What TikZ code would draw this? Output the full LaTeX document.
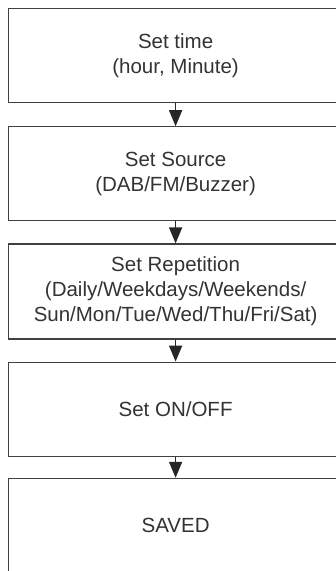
\documentclass[tikz,border=0pt]{standalone}
\usepackage{fontspec}
\setmainfont{Liberation Sans}
\usetikzlibrary{positioning,arrows.meta}
\begin{document}
\begin{tikzpicture}[x=1pt,y=1pt,font=\fontsize{20.5}{25}\selectfont,
  stepbox/.style={draw=black!75, line width=1.2pt, text=black!80, minimum width=334pt,
    minimum height=94pt, align=center, inner sep=0pt},
  flow/.style={draw=black!85, line width=1.6pt, -{Triangle[length=16pt,width=13pt]}}]
\useasboundingbox (0,0) rectangle (336,-571);
\clip (0,0) rectangle (336,-571);
% alarm set-up steps, top to bottom
\node[stepbox, anchor=north west] (time) at (8,-8) {Set time\\(hour, Minute)};
\node[stepbox, below=23pt of time] (source) {Set Source\\(DAB/FM/Buzzer)};
\node[stepbox, below=22pt of source, minimum height=95pt] (repeat)
  {Set Repetition\\(Daily/Weekdays/Weekends/\\Sun/Mon/Tue/Wed/Thu/Fri/Sat)};
\node[stepbox, below=22pt of repeat] (onoff) {Set ON/OFF};
% last box runs off the bottom edge
\node[stepbox, below=21pt of onoff, minimum height=110pt, text depth=16pt] (saved) {SAVED};
% arrows between the steps
\draw[flow] (time.south) -- (source.north);
\draw[flow] (source.south) -- (repeat.north);
\draw[flow] (repeat.south) -- (onoff.north);
\draw[flow] (onoff.south) -- (saved.north);
\end{tikzpicture}
\end{document}
